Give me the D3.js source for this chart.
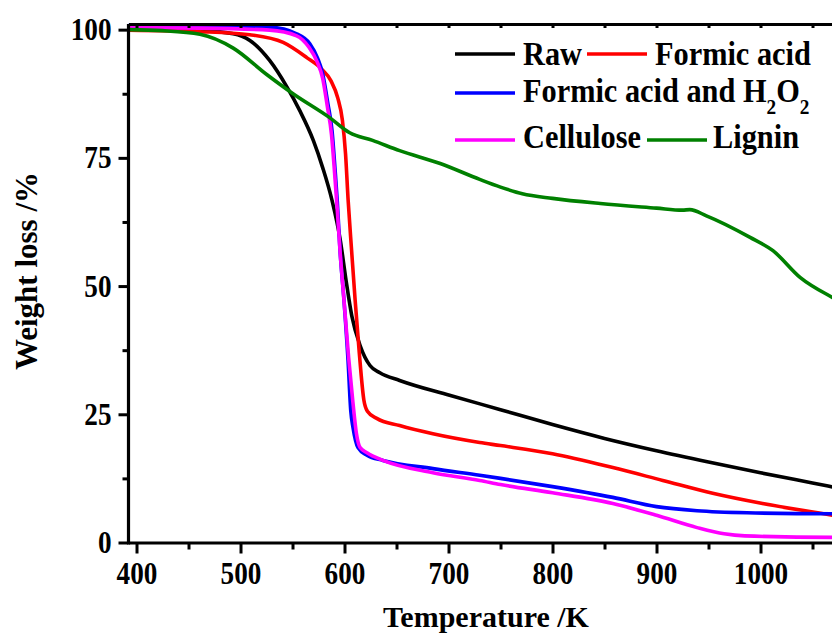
<!DOCTYPE html>
<html>
<head>
<meta charset="utf-8">
<script src="https://cdn.jsdelivr.net/npm/d3@7/dist/d3.min.js"></script>
<style>
  body { margin: 0; background: #fff; }
  svg { display: block; font-family: "Liberation Serif", "Times New Roman", serif; font-weight: bold; }
</style>
</head>
<body>
<svg id="chart" width="832" height="640"></svg>
<script>
// TG curves, temperature (K) vs weight (%)
var rawData = [[392,100],[461,99.8],[493,99.2],[509,97.9],[528,94],[545,88.7],[557,84.2],[570,78.4],
  [579,73.1],[588,66.7],[596,58.9],[601.5,51.1],[607,44.2],[615,38.4],[624.5,34.5],[634,33.1],[653,31.6],
  [701,28.7],[750,25.9],[800,23.0],[850,20.3],[900,17.9],[950,15.7],[1000,13.6],[1050,11.6],[1080,10.4]];

var formicData = [[392,99.9],[461,99.6],[509,99.0],[541,97.5],[564,94.5],[577,92.5],[587,90],[593.5,86.7],
  [598,82.3],[601,75.8],[603.5,66.7],[606.8,57],[610.2,47.3],[614,37.5],[618.6,27.8],[622,25.6],[631,24.2],
  [653,22.8],[685,21.2],[730,19.5],[750,18.9],[800,17.3],[858,14.6],[906,12.1],[954,9.6],[1002,7.6],
  [1069,5.3],[1080,4.9]];

var peroxideData = [[392,100.8],[461,100.8],[528,100.5],[554,99.2],[566.5,97.3],[574,94.5],[579,91.4],
  [584,85.6],[588,80.3],[591,72.5],[593,66.7],[595.7,56.9],[599.5,47.2],[603.4,35.5],[606,25.7],
  [608.2,22.4],[613,18.5],[621.6,17],[637,16],[685,14.4],[730,13.1],[750,12.5],[800,10.9],[858,8.8],
  [900,7],[939,6.2],[987,5.8],[1069,5.6],[1080,5.6]];

var celluloseData = [[392,100.4],[461,100.3],[528,99.9],[554,98.8],[566,96.5],[573.5,93.8],[579,90.5],
  [583.5,85],[587.5,79.5],[590.5,72],[593,65],[596,56],[600,46],[604,36],[608,27.5],[611.5,21.2],
  [615,18.5],[621.6,17.5],[637,16],[685,13.6],[730,12.1],[750,11.3],[800,9.7],[858,7.6],[900,5.3],
  [939,2.9],[965,1.7],[985,1.3],[1069,1.0],[1080,1.0]];

var ligninData = [[392,100],[425,99.8],[461,99.1],[493,96.4],[525.5,91.2],[550.5,87.5],[586,82.8],
  [605,79.9],[627,78.4],[653,76.4],[692,73.9],[730,70.8],[750,69.3],[771,68],[800,67.1],[846,66.1],
  [900,65.2],[925,64.8],[932,64.9],[948,63.7],[990,59.5],[1012,56.9],[1038,51.7],[1069,47.8],[1080,46.6]];

var seriesNames = ["Raw", "Formic acid", "Formic acid and H2O2", "Cellulose", "Lignin"];
var seriesColors = ["#000000", "#ff0000", "#0000ff", "#ff00ff", "#008000"];
var seriesData = [rawData, formicData, peroxideData, celluloseData, ligninData];

var xMajor = [400, 500, 600, 700, 800, 900, 1000];
var xMinor = [450, 550, 650, 750, 850, 950, 1050];
var yMajor = [0, 25, 50, 75, 100];
var yMinor = [12.5, 37.5, 62.5, 87.5];

var svg = d3.select("#chart");

var x = d3.scaleLinear().domain([392.3, 1080]).range([128.5, 843.7]);
var y = d3.scaleLinear().domain([0, 101.1]).range([542.5, 24]);

// curves
var line = d3.line()
  .x(function(d) { return x(d[0]); })
  .y(function(d) { return y(d[1]); })
  .curve(d3.curveMonotoneX);

svg.append("g").selectAll("path")
  .data(seriesData)
  .enter().append("path")
    .attr("d", line)
    .attr("fill", "none")
    .attr("stroke", function(d, i) { return seriesColors[i]; })
    .attr("stroke-width", 3.6)
    .attr("stroke-linejoin", "round");

// axes
function styleAxis(g) {
  g.selectAll(".domain").attr("stroke", "#000").attr("stroke-width", 3.2);
  g.selectAll(".tick line").attr("stroke", "#000").attr("stroke-width", 3);
}

var bottom = svg.append("g")
  .attr("transform", "translate(0," + y(0) + ")")
  .call(d3.axisBottom(x).tickValues(xMajor).tickSize(11).tickSizeOuter(0).tickFormat(d3.format("d")));
bottom.call(styleAxis);
bottom.selectAll("text")
  .attr("y", null).attr("dy", null)
  .attr("transform", "translate(0,41) scale(0.85,1)")
  .attr("text-anchor", "middle")
  .style("font-size", "32px").style("font-family", "Liberation Serif").style("font-weight", "bold")
  .attr("fill", "#000");

svg.append("g")
  .attr("transform", "translate(0," + y(0) + ")")
  .call(d3.axisBottom(x).tickValues(xMinor).tickSize(7).tickFormat(""))
  .call(styleAxis)
  .select(".domain").remove();

var left = svg.append("g")
  .attr("transform", "translate(" + x.range()[0] + ",0)")
  .call(d3.axisLeft(y).tickValues(yMajor).tickSize(10).tickSizeOuter(0));
left.call(styleAxis);
left.select(".domain").attr("d", "M0," + (y(0) + 2) + "V" + y.range()[1]);
left.selectAll("text")
  .attr("x", null).attr("dy", null)
  .attr("transform", "translate(-17,10) scale(0.85,1)")
  .attr("text-anchor", "end")
  .style("font-size", "32px").style("font-family", "Liberation Serif").style("font-weight", "bold")
  .attr("fill", "#000");

svg.append("g")
  .attr("transform", "translate(" + x.range()[0] + ",0)")
  .call(d3.axisLeft(y).tickValues(yMinor).tickSize(6).tickFormat(""))
  .call(styleAxis)
  .select(".domain").remove();

// top frame, short inward ticks
svg.append("g")
  .attr("transform", "translate(0," + y.range()[1] + ")")
  .call(d3.axisTop(x).tickValues(xMajor.concat(xMinor)).tickSize(-4).tickSizeOuter(0).tickFormat(""))
  .call(styleAxis);

// axis titles
svg.append("text")
  .attr("x", 486).attr("y", 627)
  .attr("text-anchor", "middle")
  .style("font-size", "30px")
  .text("Temperature /K");

svg.append("text")
  .attr("transform", "translate(37,271) rotate(-90)")
  .attr("text-anchor", "middle")
  .style("font-size", "31px")
  .text("Weight loss /%");

// legend
var legendItems = [
  { i: 0, lx: 455, ly: 54, tx: 523, ty: 65 },
  { i: 1, lx: 587, ly: 54, tx: 655, ty: 65 },
  { i: 2, lx: 455, ly: 93, tx: 523, ty: 102 },
  { i: 3, lx: 455, ly: 140, tx: 523, ty: 148 },
  { i: 4, lx: 647, ly: 140, tx: 713, ty: 148 }
];

var legend = svg.append("g");
legendItems.forEach(function(it) {
  legend.append("line")
    .attr("x1", it.lx).attr("x2", it.lx + 60)
    .attr("y1", it.ly).attr("y2", it.ly)
    .attr("stroke", seriesColors[it.i])
    .attr("stroke-width", 3.6);
  var t = legend.append("text")
    .attr("transform", "translate(" + it.tx + "," + it.ty + ") scale(0.92,1)")
    .style("font-size", "33px");
  var name = seriesNames[it.i];
  if (name.indexOf("H2O2") >= 0) {
    t.append("tspan").text(name.replace("H2O2", "H"));
    t.append("tspan").attr("dy", 12).style("font-size", "21px").text("2");
    t.append("tspan").attr("dy", -12).text("O");
    t.append("tspan").attr("dy", 12).style("font-size", "21px").text("2");
  } else {
    t.text(name);
  }
});
</script>
</body>
</html>
